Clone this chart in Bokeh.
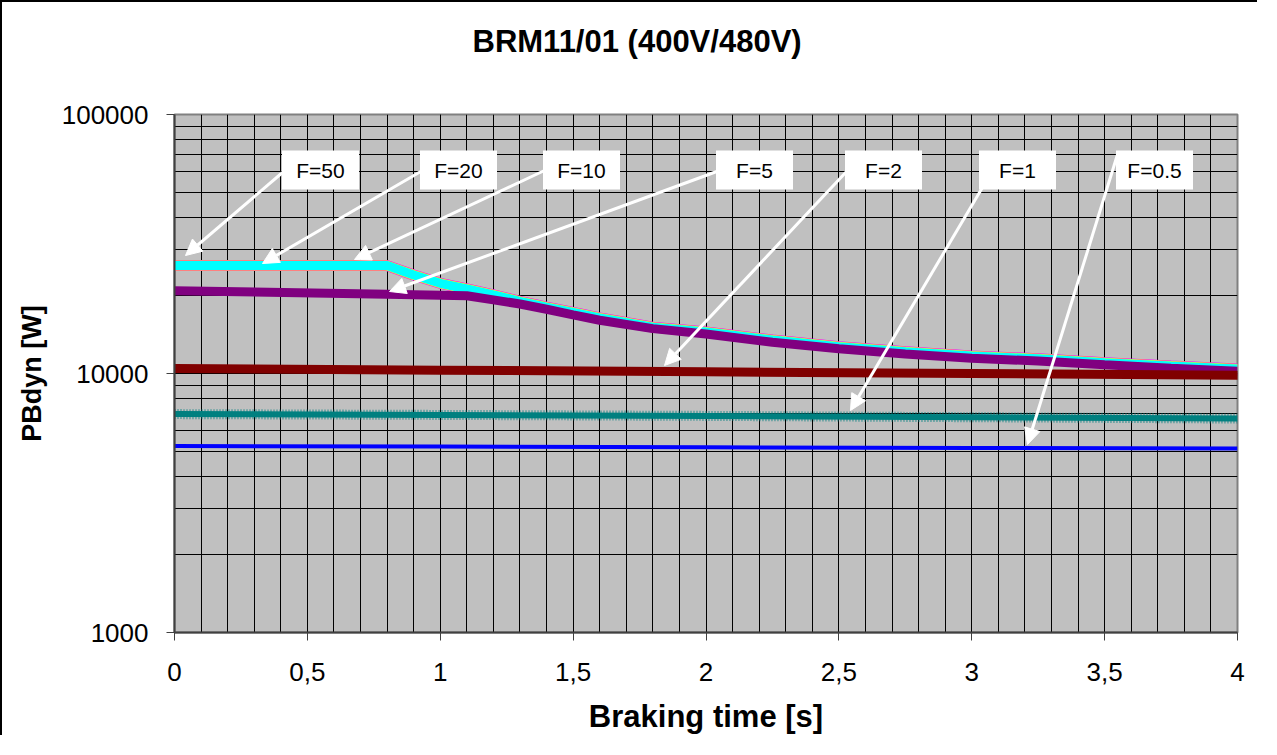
from bokeh.plotting import figure
from bokeh.models import (Range1d, FixedTicker, CustomJSTickFormatter, NumeralTickFormatter,
                          Label, BoxAnnotation, Arrow, NormalHead, Title)
from bokeh.embed import file_html
from bokeh.resources import INLINE

# ---- data ----
t_upper = [0, 0.8, 0.9, 1.0, 1.1, 1.2, 1.3, 1.4, 1.5, 1.6, 1.8, 2.0, 2.25, 2.5, 2.75, 3.0, 3.25, 3.5, 3.75, 4]
p_f50 = [26100, 26100, 24000, 22300, 21200, 20100, 19000, 18050, 17200, 16380, 15100, 14480, 13460,
         12700, 12140, 11680, 11400, 11010, 10690, 10400]
p_f20 = [26100, 26100, 24000, 22300, 21200, 20100, 19000, 18050, 17200, 16380, 15100, 14480, 13460,
         12700, 12140, 11680, 11400, 11010, 10690, 10400]
p_f10 = [26100, 26100, 24000, 22300, 21200, 20100, 19000, 18050, 17200, 16380, 15100, 14480, 13460,
         12700, 12140, 11680, 11400, 11010, 10690, 10400]
p_f5 = [20850, 20250, 20150, 20050, 19950, 19250, 18550, 17700, 16850, 16050, 14900, 14200, 13200,
        12450, 11900, 11450, 11180, 10800, 10480, 10200]
t_lower = [0, 1, 2, 3, 4]
p_f2 = [10450, 10300, 10150, 10000, 9850]
p_f1 = [6970, 6920, 6860, 6780, 6700]
p_f05 = [5250, 5220, 5190, 5160, 5130]

labels = ["F=50", "F=20", "F=10", "F=5", "F=2", "F=1", "F=0.5"]
x_ticks = [0, 0.5, 1, 1.5, 2, 2.5, 3, 3.5, 4]
y_ticks = [1000, 10000, 100000]

FONT = "Liberation Sans"

W, H = 1257, 735
p = figure(width=W, height=H, output_backend="svg", toolbar_location=None,
           x_range=Range1d(0, 4), y_range=Range1d(1000, 100000), y_axis_type="log",
           min_border_left=172, min_border_right=22, min_border_top=112, min_border_bottom=105)
p.styles = {"border-left": "2px solid black", "border-top": "2px solid black",
            "box-sizing": "border-box"}
p.background_fill_color = "#C0C0C0"
p.border_fill_color = "white"
p.outline_line_color = "#808080"
p.outline_line_width = 2

# spacer panel between the frame and the chart title
spacer = Title(text=" ", text_font_size="2px", standoff=52)
p.add_layout(spacer, "above")
title = Title(text="BRM11/01 (400V/480V)", align="left", offset=298, standoff=0,
              text_font=FONT, text_font_size="31px", text_font_style="bold", text_color="black")
p.add_layout(title, "above")

# ticks / grid
p.xaxis.ticker = FixedTicker(ticks=x_ticks, minor_ticks=[i / 10 for i in range(41)])
p.yaxis.ticker = FixedTicker(ticks=y_ticks,
                             minor_ticks=[m * 10 ** e for e in (3, 4) for m in range(2, 10)])
p.xaxis.formatter = CustomJSTickFormatter(code="return tick.toString().replace('.', ',')")
p.yaxis.formatter = NumeralTickFormatter(format="0")
for g in (p.xgrid, p.ygrid):
    g.grid_line_color = "black"
    g.grid_line_width = 1
    g.minor_grid_line_color = "black"
    g.minor_grid_line_width = 1

for ax in (p.xaxis, p.yaxis):
    ax.axis_line_color = "#404040"
    ax.axis_line_width = 2
    ax.major_tick_line_color = "#404040"
    ax.major_tick_in = 0
    ax.major_tick_out = 8
    ax.minor_tick_in = 0
    ax.minor_tick_out = 0
    ax.major_label_text_font = FONT
    ax.major_label_text_font_size = "26px"
    ax.major_label_text_color = "black"
    ax.axis_label_text_font = FONT
    ax.axis_label_text_font_style = "bold"
    ax.axis_label_text_color = "black"

p.xaxis.axis_label = "Braking time [s]"
p.yaxis.axis_label = "PBdyn [W]"
p.xaxis.axis_label_text_font_size = "31px"
p.yaxis.axis_label_text_font_size = "27px"
p.xaxis.major_label_standoff = 22
p.yaxis.major_label_standoff = 18
p.xaxis.axis_label_standoff = 15
p.yaxis.axis_label_standoff = 12

# ---- series ----
p.line(t_upper, p_f50, line_color="#FF00FF", line_width=11)
p.line(t_upper, p_f20, line_color="#FFFF00", line_width=10)
p.line(t_upper, p_f10, line_color="#00FFFF", line_width=9)
p.line(t_upper, p_f5, line_color="#800080", line_width=9)
p.line(t_lower, p_f2, line_color="#800000", line_width=9, line_cap="round")
p.line(t_lower, p_f1, line_color="#008080", line_width=6)
p.line(t_lower, p_f1, line_color="#008080", line_width=10, line_dash="1 2", line_alpha=0.8)
p.line(t_lower, p_f05, line_color="#0000FF", line_width=4)

# ---- annotation helpers (pixel placement -> data coords) ----
FL, FR, FT, FB = 182, 1245, 122, 640


def dx(px):
    return (px - FL) / (FR - FL) * 4


def dy(py):
    return 10 ** (3 + 2 * (FB - py) / (FB - FT))


box_centers = [328, 466, 589, 762, 891, 1025, 1162]
arrow_starts = [(290, 180), (430, 178), (552, 178), (727, 178), (855, 178), (1000, 178), (1125, 162)]
arrow_tips = [(193, 263), (270, 271), (362, 267), (397, 299), (672, 373), (858, 418), (1035, 452)]

for (sx, sy), (ex, ey) in zip(arrow_starts, arrow_tips):
    p.add_layout(Arrow(x_start=dx(sx), y_start=dy(sy), x_end=dx(ex), y_end=dy(ey),
                       line_color="white", line_width=3,
                       end=NormalHead(size=16, fill_color="white", line_color="white")))

for cx, txt in zip(box_centers, labels):
    p.add_layout(BoxAnnotation(left=dx(cx - 38.5), right=dx(cx + 38.5),
                               top=dy(158), bottom=dy(197),
                               fill_color="white", fill_alpha=1.0, line_color=None))
    p.add_layout(Label(x=dx(cx), y=dy(177.5), text=txt, text_align="center",
                       text_baseline="middle", text_font=FONT, text_font_size="21px",
                       text_color="black"))

open("out.html", "w").write(file_html(p, INLINE))
